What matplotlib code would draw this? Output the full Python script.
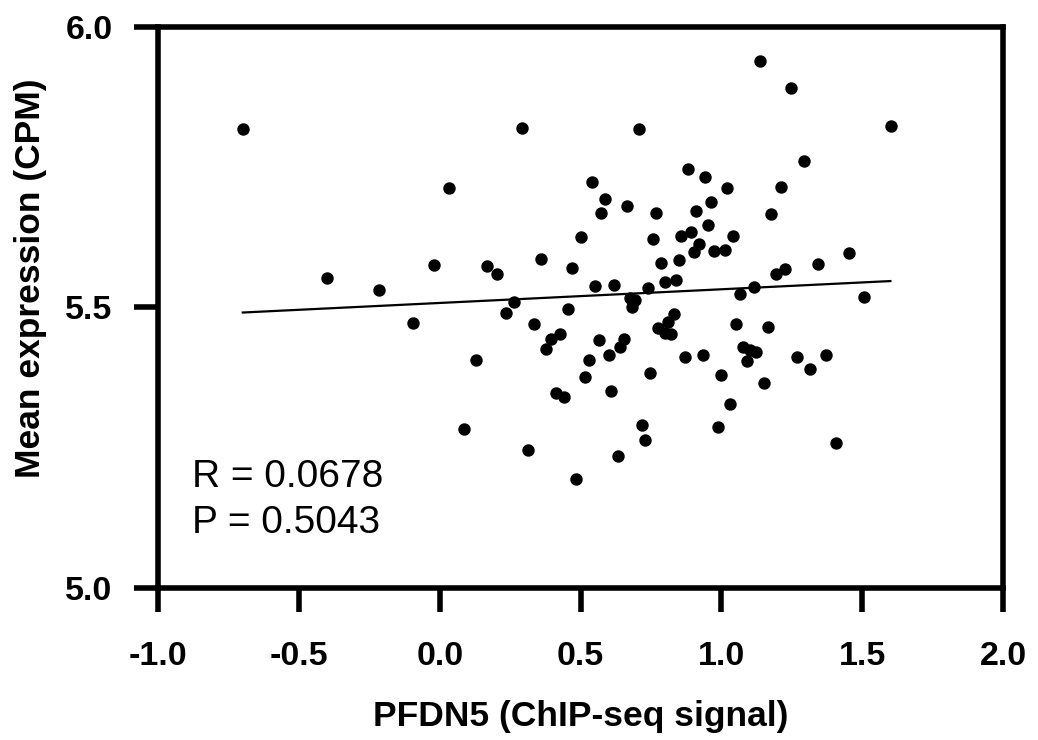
import matplotlib
matplotlib.use("Agg")
import matplotlib.pyplot as plt

# PFDN5 ChIP-seq signal vs mean expression
pfdn5_signal = [
    -0.700, 0.291, 0.034, -0.400, -0.217, -0.021, 0.167, 0.203, 0.358, 0.471,
    0.265, 0.236, 0.455, -0.097, 0.336, 0.428, 0.396, 0.378, 0.128, 0.412,
    0.442, 0.087, 0.313, 0.484, 1.138, 1.247, 0.706, 1.603, 1.292, 0.880,
    0.942, 0.539, 1.020, 1.210, 0.585, 0.964, 0.573, 0.665, 0.766, 0.910,
    1.177, 0.502, 0.756, 0.953, 0.858, 0.891, 1.041, 0.919, 0.901, 0.975,
    1.011, 1.452, 0.787, 0.849, 1.342, 1.192, 1.227, 0.552, 0.620, 0.738,
    0.798, 0.839, 1.115, 1.065, 1.505, 0.674, 0.694, 0.682, 0.832, 0.810,
    0.776, 0.801, 0.822, 1.053, 1.164, 0.564, 0.655, 0.641, 0.528, 0.599,
    0.514, 0.609, 0.745, 0.869, 0.933, 1.000, 1.077, 1.100, 1.124, 1.089,
    1.151, 1.269, 1.316, 1.372, 1.029, 0.986, 0.718, 0.730, 0.633, 1.406,
]
mean_expression = [
    5.818, 5.820, 5.712, 5.553, 5.531, 5.576, 5.573, 5.559, 5.586, 5.570,
    5.510, 5.491, 5.497, 5.473, 5.470, 5.453, 5.444, 5.426, 5.406, 5.348,
    5.341, 5.284, 5.247, 5.195, 5.939, 5.890, 5.818, 5.823, 5.760, 5.747,
    5.733, 5.723, 5.712, 5.715, 5.693, 5.688, 5.669, 5.680, 5.668, 5.672,
    5.666, 5.626, 5.622, 5.646, 5.627, 5.634, 5.627, 5.613, 5.599, 5.601,
    5.602, 5.597, 5.579, 5.585, 5.577, 5.560, 5.568, 5.539, 5.540, 5.534,
    5.546, 5.549, 5.537, 5.524, 5.518, 5.516, 5.513, 5.501, 5.488, 5.474,
    5.463, 5.454, 5.452, 5.471, 5.465, 5.442, 5.444, 5.430, 5.407, 5.415,
    5.377, 5.352, 5.383, 5.411, 5.415, 5.379, 5.429, 5.424, 5.420, 5.405,
    5.366, 5.411, 5.391, 5.416, 5.328, 5.287, 5.291, 5.264, 5.235, 5.259,
]

# regression line end points
fit_x = [-0.70, 1.60]
fit_y = [5.491, 5.547]

x_ticks = [-1.0, -0.5, 0.0, 0.5, 1.0, 1.5, 2.0]
y_ticks = [5.0, 5.5, 6.0]
stats_text = ["R = 0.0678", "P = 0.5043"]

plt.rcParams['font.family'] = ['Liberation Sans', 'DejaVu Sans']

fig = plt.figure(figsize=(10.38, 7.40), dpi=100)
ax = fig.add_axes([0.1525, 0.205, 0.8138, 0.759])

ax.scatter(pfdn5_signal, mean_expression, s=80, color='black', linewidths=0, zorder=3)
ax.plot(fit_x, fit_y, color='black', lw=1.6, zorder=2)

ax.set_xlim(-1.0, 2.0)
ax.set_ylim(5.0, 6.0)
ax.set_xticks(x_ticks)
ax.set_yticks(y_ticks)
ax.set_xticklabels([f"{t:.1f}" for t in x_ticks])
ax.set_yticklabels([f"{t:.1f}" for t in y_ticks])

for sp in ax.spines.values():
    sp.set_linewidth(4)
ax.tick_params(direction='out', length=17, width=4, labelsize=24.5)
ax.tick_params(axis='x', pad=21)
ax.tick_params(axis='y', pad=16)
for lab in ax.get_xticklabels() + ax.get_yticklabels():
    lab.set_fontweight('bold')

ax.set_xlabel('PFDN5 (ChIP-seq signal)', fontsize=25.5, fontweight='bold', labelpad=20)
ax.set_ylabel('Mean expression (CPM)', fontsize=25.5, fontweight='bold')
ax.yaxis.set_label_coords(-0.132, 0.5516)

ax.text(-0.88, 5.180, stats_text[0], fontsize=28, ha='left', va='baseline')
ax.text(-0.88, 5.098, stats_text[1], fontsize=28, ha='left', va='baseline')

fig.savefig('out.png', dpi=100)
